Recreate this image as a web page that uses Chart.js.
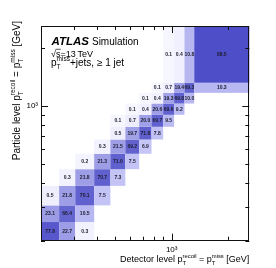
<!DOCTYPE html>
<html>
<head>
<meta charset="utf-8">
<script src="https://cdn.jsdelivr.net/npm/chart.js@4.4.1/dist/chart.umd.min.js"></script>
<style>
  html, body { margin: 0; padding: 0; background: #fff; }
  canvas { display: block; }
</style>
</head>
<body>
<canvas id="migrationChart" width="276" height="268"></canvas>
<script>
// bin edges in GeV, same binning on both axes
const binEdges = [200, 250, 305, 385, 470, 565, 670, 780, 900, 1030, 1170, 1320, 2600];
const tickValues = [200, 300, 400, 500, 600, 700, 800, 900, 1000, 2000];
const tickLabels = { 1000: '10³' };

// migration in %, one array per particle level bin (bottom to top), one entry per detector level bin
const row01 = [77.8, 22.7, 0.3, null, null, null, null, null, null, null, null, null];
const row02 = [23.1, 66.4, 10.5, null, null, null, null, null, null, null, null, null];
const row03 = [0.5, 21.8, 70.1, 7.5, null, null, null, null, null, null, null, null];
const row04 = [null, 0.3, 21.8, 70.7, 7.3, null, null, null, null, null, null, null];
const row05 = [null, null, 0.2, 21.3, 71.0, 7.5, null, null, null, null, null, null];
const row06 = [null, null, null, 0.3, 21.5, 69.2, 6.9, null, null, null, null, null];
const row07 = [null, null, null, null, 0.5, 19.7, 71.8, 7.8, null, null, null, null];
const row08 = [null, null, null, null, 0.1, 0.7, 20.0, 69.7, 9.5, null, null, null];
const row09 = [null, null, null, null, null, 0.1, 0.4, 20.6, 69.6, 9.2, null, null];
const row10 = [null, null, null, null, null, null, 0.1, 0.4, 19.3, 69.8, 10.0, null];
const row11 = [null, null, null, null, null, null, null, 0.1, 0.7, 19.4, 69.3, 10.3];
const row12 = [null, null, null, null, null, null, null, null, 0.1, 0.4, 10.8, 88.5];
const rows = [row01, row02, row03, row04, row05, row06, row07, row08, row09, row10, row11, row12];

const FONT = '"Liberation Sans", Arial, sans-serif';

// white -> blue palette
const stops = [
  [0, 255, 255, 255], [0.1, 246, 246, 255], [0.5, 238, 238, 253], [5, 205, 205, 248],
  [10, 184, 184, 242], [20, 160, 160, 232], [67, 100, 100, 208], [78, 88, 88, 204], [100, 66, 66, 196]
];
function cellColour(v) {
  for (let i = 1; i < stops.length; i++) {
    if (v <= stops[i][0]) {
      const a = stops[i - 1], b = stops[i];
      const t = (v - a[0]) / (b[0] - a[0]);
      return 'rgb(' + [1, 2, 3].map(k => Math.round(a[k] + t * (b[k] - a[k]))).join(',') + ')';
    }
  }
  return 'rgb(66,66,196)';
}

// text with p_T^xxx style sub/superscripts
function richWidth(ctx, parts, size) {
  let w = 0;
  parts.forEach(p => {
    if (typeof p === 'string') {
      ctx.font = size + 'px ' + FONT;
      w += ctx.measureText(p).width;
    } else {
      ctx.font = (size * 0.65) + 'px ' + FONT;
      w += Math.max(ctx.measureText(p.sub).width, ctx.measureText(p.sup).width);
    }
  });
  return w;
}
function drawRich(ctx, parts, x, y, size) {
  ctx.textAlign = 'left';
  ctx.textBaseline = 'alphabetic';
  parts.forEach(p => {
    if (typeof p === 'string') {
      ctx.font = size + 'px ' + FONT;
      ctx.fillText(p, x, y);
      x += ctx.measureText(p).width;
    } else {
      ctx.font = (size * 0.65) + 'px ' + FONT;
      ctx.fillText(p.sub, x, y + size * 0.28);
      ctx.fillText(p.sup, x, y - size * 0.5);
      x += Math.max(ctx.measureText(p.sub).width, ctx.measureText(p.sup).width);
    }
  });
}

const xTitle = ['Detector level p', { sub: 'T', sup: 'recoil' }, ' = p', { sub: 'T', sup: 'miss' }, ' [GeV]'];
const yTitle = ['Particle level p', { sub: 'T', sup: 'recoil' }, ' = p', { sub: 'T', sup: 'miss' }, ' [GeV]'];

const matrixPlugin = {
  id: 'matrix',
  beforeDatasetsDraw(chart) {
    const ctx = chart.ctx;
    const xs = chart.scales.x, ys = chart.scales.y;
    ctx.save();
    rows.forEach((row, j) => {
      const y0 = ys.getPixelForValue(binEdges[j]);
      const y1 = ys.getPixelForValue(binEdges[j + 1]);
      row.forEach((v, i) => {
        if (v === null) return;
        const x0 = xs.getPixelForValue(binEdges[i]);
        const x1 = xs.getPixelForValue(binEdges[i + 1]);
        ctx.fillStyle = cellColour(v);
        ctx.fillRect(x0, y1, x1 - x0, y0 - y1);
      });
    });
    ctx.fillStyle = '#1c1c2c';
    ctx.font = 'bold 5px ' + FONT;
    ctx.textAlign = 'center';
    ctx.textBaseline = 'middle';
    rows.forEach((row, j) => {
      const yc = (ys.getPixelForValue(binEdges[j]) + ys.getPixelForValue(binEdges[j + 1])) / 2;
      row.forEach((v, i) => {
        if (v === null) return;
        const xc = (xs.getPixelForValue(binEdges[i]) + xs.getPixelForValue(binEdges[i + 1])) / 2;
        ctx.fillText(v.toFixed(1), xc, yc);
      });
    });
    ctx.restore();
  },
  afterDraw(chart) {
    const ctx = chart.ctx;
    const a = chart.chartArea;
    const xs = chart.scales.x, ys = chart.scales.y;
    ctx.save();
    ctx.strokeStyle = '#111';
    ctx.lineWidth = 1;
    // inward ticks on all four sides
    ctx.beginPath();
    tickValues.forEach(v => {
      const len = tickLabels[v] ? 7 : 4;
      const px = Math.round(xs.getPixelForValue(v)) + 0.5;
      ctx.moveTo(px, a.bottom); ctx.lineTo(px, a.bottom - len);
      ctx.moveTo(px, a.top); ctx.lineTo(px, a.top + len);
      const py = Math.round(ys.getPixelForValue(v)) + 0.5;
      ctx.moveTo(a.left, py); ctx.lineTo(a.left + len, py);
      ctx.moveTo(a.right, py); ctx.lineTo(a.right - len, py);
    });
    ctx.stroke();
    ctx.strokeRect(Math.round(a.left) + 0.5, Math.round(a.top) + 0.5,
      Math.round(a.right - a.left) - 1, Math.round(a.bottom - a.top) - 1);

    ctx.fillStyle = '#000';
    // axis titles
    const xw = richWidth(ctx, xTitle, 9);
    drawRich(ctx, xTitle, a.right - xw, 262, 9);
    const yw = richWidth(ctx, yTitle, 10);
    ctx.translate(20, 21 + yw);
    ctx.rotate(-Math.PI / 2);
    drawRich(ctx, yTitle, 0, 0, 10);
    ctx.setTransform(1, 0, 0, 1, 0, 0);

    // ATLAS label
    ctx.textAlign = 'left';
    ctx.textBaseline = 'alphabetic';
    ctx.font = 'italic bold 11.5px ' + FONT;
    ctx.fillText('ATLAS', 51.5, 45);
    const aw = ctx.measureText('ATLAS').width;
    ctx.font = '10px ' + FONT;
    ctx.fillText('Simulation', 51.5 + aw + 3, 45);

    ctx.font = '9px ' + FONT;
    let x = 51;
    ctx.fillText('√', x, 56.5);
    x += ctx.measureText('√').width;
    ctx.fillText('s', x, 56.5);
    const sw = ctx.measureText('s').width;
    ctx.beginPath();
    ctx.lineWidth = 0.7;
    ctx.moveTo(x - 0.5, 49.3); ctx.lineTo(x + sw + 0.3, 49.3);
    ctx.stroke();
    x += sw;
    ctx.fillText('=13\u2009TeV', x, 56.5);

    drawRich(ctx, ['p', { sub: 'T', sup: 'miss' }, '+jets, ≥ 1 jet'], 51, 66, 10);
    ctx.restore();
  }
};

const tickOptions = {
  autoSkip: false,
  maxRotation: 0,
  color: '#000',
  font: { family: FONT, size: 8 },
  callback: (value) => tickLabels[value] || ''
};

new Chart(document.getElementById('migrationChart'), {
  type: 'scatter',
  data: { datasets: [{ data: [], pointRadius: 0 }] },
  options: {
    responsive: false,
    animation: false,
    events: [],
    layout: { padding: { left: 0, top: 26, right: 26.7, bottom: 0 } },
    plugins: { legend: { display: false }, tooltip: { enabled: false } },
    scales: {
      x: {
        type: 'logarithmic',
        min: binEdges[0],
        max: binEdges[binEdges.length - 1],
        grid: { display: false, drawTicks: false },
        border: { display: false },
        ticks: Object.assign({ padding: 4 }, tickOptions),
        afterBuildTicks: (axis) => { axis.ticks = tickValues.map(v => ({ value: v })); },
        afterFit: (axis) => { axis.height = 27.3; }
      },
      y: {
        type: 'logarithmic',
        min: binEdges[0],
        max: binEdges[binEdges.length - 1],
        grid: { display: false, drawTicks: false },
        border: { display: false },
        ticks: Object.assign({ padding: 3 }, tickOptions),
        afterBuildTicks: (axis) => { axis.ticks = tickValues.map(v => ({ value: v })); },
        afterFit: (axis) => { axis.width = 41; }
      }
    }
  },
  plugins: [matrixPlugin]
});
</script>
</body>
</html>
